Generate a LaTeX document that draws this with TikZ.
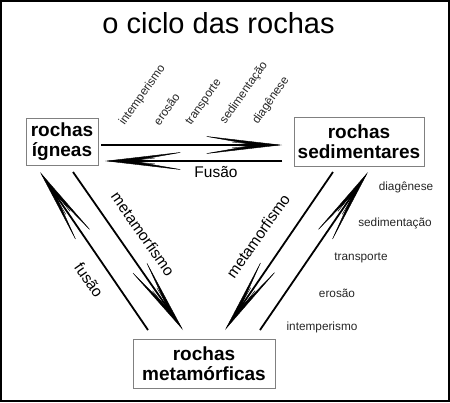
\documentclass[tikz,border=0pt]{standalone}
\usepackage{fontspec}
\setmainfont{Liberation Sans}
\usetikzlibrary{arrows.meta}
\begin{document}
\begin{tikzpicture}[x=1pt,y=-1pt,
  rockbox/.style={draw=black!50, line width=0.9pt, inner sep=0pt, align=center,
    font=\fontsize{19}{20.5}\selectfont\bfseries},
  bigarrow/.style={line width=1.8pt,
    -{Stealth[length=82pt,width=19pt,inset=54pt,line width=0.4pt]}},
  innerhead/.style={line width=0.05pt,
    -{Stealth[length=72pt,width=8pt,inset=58pt,line width=0.3pt]}},
  biglabel/.style={font=\fontsize{15.5}{17}\selectfont, inner sep=0pt},
  steplabel/.style={font=\fontsize{11.8}{13}\selectfont, text=black!85, inner sep=0pt}]
\useasboundingbox (0,0) rectangle (450,402);
\draw[line width=2pt] (1,1) rectangle (449,401);
\node[font=\fontsize{29}{32}\selectfont, anchor=base] (title) at (218.5,33) {o ciclo das rochas};
% boxes
\node[rockbox, minimum width=72pt, minimum height=47pt] (ig) at (62,141.5) {rochas\\ígneas};
\node[rockbox, minimum width=130pt, minimum height=49pt] (sed) at (359,141.5) {rochas\\sedimentares};
\node[rockbox, minimum width=142pt, minimum height=49pt] (met) at (204,363.5) {rochas\\metamórficas};
% connector end points
\coordinate (a1) at (101,145); \coordinate (b1) at (282,145);
\coordinate (a2) at (282,161); \coordinate (b2) at (105,161);
\coordinate (a3) at (148,330); \coordinate (b3) at (40,172);
\coordinate (a4) at (73,172);  \coordinate (b4) at (183,330);
\coordinate (a5) at (333,172); \coordinate (b5) at (225,330);
\coordinate (a6) at (260,330); \coordinate (b6) at (368,172);
\foreach \i in {1,...,6}{
  \draw[bigarrow] (a\i) -- (b\i);
  \draw[innerhead] (a\i) -- (b\i);
}
% big labels
\node[biglabel] (lfus) at (216,172) {Fusão};
\node[biglabel, rotate=-55] (lmet1) at (143,234) {metamorfismo};
\node[biglabel, rotate=-55] (lfus2) at (89,280) {fusão};
\node[biglabel, rotate=55] (lmet2) at (258,236) {metamorfismo};
% right list
\node[steplabel] (r1) at (406,187) {diagênese};
\node[steplabel] (r2) at (395,223) {sedimentação};
\node[steplabel] (r3) at (361,258) {transporte};
\node[steplabel] (r4) at (337,293) {erosão};
\node[steplabel] (r5) at (322,327) {intemperismo};
% top list
\node[steplabel, rotate=55] (t1) at (142.5,95) {intemperismo};
\node[steplabel, rotate=55] (t2) at (166.5,109) {erosão};
\node[steplabel, rotate=55] (t3) at (204,102.5) {transporte};
\node[steplabel, rotate=55] (t4) at (244,93) {sedimentação};
\node[steplabel, rotate=55] (t5) at (271,100.5) {diagênese};
\end{tikzpicture}
\end{document}
